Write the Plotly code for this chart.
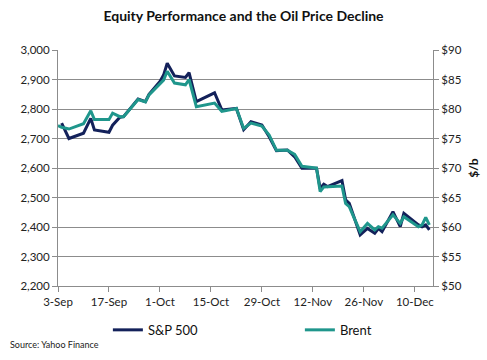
import plotly.graph_objects as go

dates = ["2018-09-03", "2018-09-04", "2018-09-06", "2018-09-10", "2018-09-12", "2018-09-13",
         "2018-09-17", "2018-09-18", "2018-09-20", "2018-09-21", "2018-09-25", "2018-09-27",
         "2018-09-28", "2018-10-01", "2018-10-02", "2018-10-03", "2018-10-05", "2018-10-08",
         "2018-10-09", "2018-10-11", "2018-10-16", "2018-10-18", "2018-10-22", "2018-10-24",
         "2018-10-26", "2018-10-29", "2018-10-31", "2018-11-02", "2018-11-05", "2018-11-07",
         "2018-11-09", "2018-11-13", "2018-11-14", "2018-11-15", "2018-11-16", "2018-11-20",
         "2018-11-21", "2018-11-22", "2018-11-23", "2018-11-25", "2018-11-27", "2018-11-29",
         "2018-11-30", "2018-12-01", "2018-12-04", "2018-12-06", "2018-12-07", "2018-12-11",
         "2018-12-12", "2018-12-13", "2018-12-14"]

sp500 = [None, 2752, 2700, 2718, 2768, 2729,
         2721, 2745, 2772, 2774, 2834, 2825,
         2850, 2893, 2915, 2955, 2912, 2907,
         2923, 2825, 2855, 2797, 2802, 2730,
         2757, 2746, 2706, 2659, 2661, 2638,
         2599, 2599, 2531, 2545, 2537, 2557,
         2492, 2480, 2446, 2373, 2395, 2379,
         2395, 2384, 2452, 2401, 2446, 2407,
         2401, 2407, 2390]

brent = [77.2, 76.9, 76.6, 77.5, 79.7, 78.2,
         78.2, 79.3, 78.7, 78.7, 81.6, 81.2,
         82.4, 84.4, 84.9, 86.4, 84.4, 84.1,
         85.0, 80.4, 81.0, 79.6, 80.1, 76.7,
         77.6, 77.1, 75.6, 73.0, 73.0, 72.3,
         70.3, 70.0, 66.0, 66.8, 66.85, 66.95,
         64.0, 63.45, 62.0, 59.2, 60.6, 59.5,
         60.05, 59.8, 62.05, 60.6, 61.75, 60.05,
         60.35, 61.65, 60.35]

tick_dates = ["2018-09-03", "2018-09-17", "2018-10-01", "2018-10-15", "2018-10-29",
              "2018-11-12", "2018-11-26", "2018-12-10"]
tick_labels = ["3-Sep", "17-Sep", "1-Oct", "15-Oct", "29-Oct", "12-Nov", "26-Nov", "10-Dec"]

left_ticks = list(range(2200, 3001, 100))
left_labels = [f"{v:,}" for v in left_ticks]
right_ticks = list(range(50, 91, 5))
right_labels = [f"${v}" for v in right_ticks]

NAVY = "#13215a"
TEAL = "#1f968c"
GRID = "#8c8c8c"
FONT = "Lato, 'Open Sans', sans-serif"

fig = go.Figure()
fig.add_trace(go.Scatter(x=dates, y=sp500, name="S&P 500", mode="lines",
                         line=dict(color=NAVY, width=3), yaxis="y", legend="legend"))
fig.add_trace(go.Scatter(x=dates, y=brent, name="Brent", mode="lines",
                         line=dict(color=TEAL, width=3), yaxis="y2", legend="legend2"))

legend_common = dict(orientation="h", xref="paper", yref="paper",
                     xanchor="left", y=-0.186, yanchor="middle",
                     font=dict(size=13, color="#111"), bgcolor="rgba(0,0,0,0)")

fig.update_layout(
    width=487, height=360,
    margin=dict(l=58, r=54, t=50, b=74, autoexpand=False),
    paper_bgcolor="white", plot_bgcolor="white",
    font=dict(family=FONT, size=11.5, color="#222"),
    title=dict(text="<b>Equity Performance and the Oil Price Decline</b>",
               x=0.5, xanchor="center", y=0.955, yanchor="middle",
               font=dict(size=14, color="#111", family=FONT)),
    xaxis=dict(type="date", range=["2018-09-03", "2018-12-15"],
               tickvals=tick_dates, ticktext=tick_labels,
               ticks="outside", ticklen=5, tickcolor=GRID,
               showline=True, linecolor=GRID, linewidth=1,
               showgrid=False, zeroline=False, automargin=False,
               tickfont=dict(size=11.5)),
    yaxis=dict(range=[2200, 3000], tickvals=left_ticks, ticktext=left_labels,
               ticks="outside", ticklen=5, tickcolor=GRID,
               showline=True, linecolor=GRID, linewidth=1,
               showgrid=True, gridcolor=GRID, gridwidth=1, zeroline=False,
               automargin=False, tickfont=dict(size=11.5)),
    yaxis2=dict(range=[50, 90], tickvals=right_ticks, ticktext=right_labels,
                overlaying="y", side="right",
                ticks="outside", ticklen=5, tickcolor=GRID,
                showline=True, linecolor=GRID, linewidth=1,
                showgrid=False, zeroline=False, automargin=False,
                title=dict(text="<b>$/b</b>", font=dict(size=12, color="#111"), standoff=8),
                tickfont=dict(size=11.5)),
    legend=dict(x=0.133, **legend_common),
    legend2=dict(x=0.645, **legend_common),
    showlegend=True,
)

fig.add_annotation(text="Source: Yahoo Finance", xref="paper", yref="paper",
                   x=-0.133, y=-0.246, xanchor="left", yanchor="middle",
                   showarrow=False, font=dict(size=9, color="#222"))

fig.write_html("out.html", config={"displayModeBar": False})

with open("out.html", "r", encoding="utf-8") as f:
    html = f.read()
html = html.replace("<head>", "<head><style>html,body{margin:0;padding:0;}</style>", 1)
with open("out.html", "w", encoding="utf-8") as f:
    f.write(html)
